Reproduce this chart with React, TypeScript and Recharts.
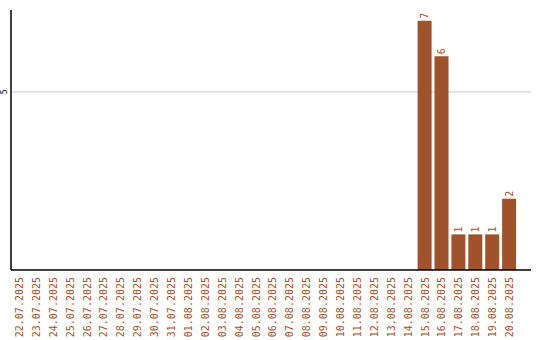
import React from "react";
import { BarChart, Bar, XAxis, YAxis, CartesianGrid, LabelList } from "recharts";

const days: string[] = [
  "22.07.2025", "23.07.2025", "24.07.2025", "25.07.2025", "26.07.2025",
  "27.07.2025", "28.07.2025", "29.07.2025", "30.07.2025", "31.07.2025",
  "01.08.2025", "02.08.2025", "03.08.2025", "04.08.2025", "05.08.2025",
  "06.08.2025", "07.08.2025", "08.08.2025", "09.08.2025", "10.08.2025",
  "11.08.2025", "12.08.2025", "13.08.2025", "14.08.2025", "15.08.2025",
  "16.08.2025", "17.08.2025", "18.08.2025", "19.08.2025", "20.08.2025",
];

const counts: (number | null)[] = [
  null, null, null, null, null, null, null, null, null, null,
  null, null, null, null, null, null, null, null, null, null,
  null, null, null, null, 7, 6, 1, 1, 1, 2,
];

const yTicks: number[] = [5];

const BROWN = "#a0522d";
const MONO = "'DejaVu Sans Mono', monospace";

const data = days.map((day, i) => ({ day, count: counts[i] }));

const DayTick = (props: any) => {
  const { x, y, payload } = props;
  return (
    <text
      x={0}
      y={0}
      transform={`translate(${x + 3.5},${y - 1}) rotate(-90)`}
      textAnchor="end"
      fontSize={10}
      fontFamily={MONO}
      fill={BROWN}
    >
      {payload.value}
    </text>
  );
};

const CountTick = (props: any) => {
  const { y, payload } = props;
  return (
    <text
      x={0}
      y={0}
      transform={`translate(7,${y}) rotate(-90)`}
      textAnchor="middle"
      fontSize={8}
      fontFamily={MONO}
      fill="#000"
    >
      {payload.value}
    </text>
  );
};

const ValueLabel = (props: any) => {
  const { x, y, width, value } = props;
  if (value == null) return null;
  return (
    <text
      x={0}
      y={0}
      transform={`translate(${x + width / 2 + 3.5},${y - 2}) rotate(-90)`}
      textAnchor="start"
      fontSize={10}
      fontFamily={MONO}
      fill={BROWN}
    >
      {value}
    </text>
  );
};

export default function App() {
  return (
    <div style={{ position: "absolute", left: 0, top: 0, width: 540, height: 340, background: "#fff" }}>
      <BarChart
        width={540}
        height={340}
        data={data}
        margin={{ top: 10, right: 9, bottom: 0, left: 0 }}
        barCategoryGap={1.5}
      >
        <CartesianGrid vertical={false} horizontalValues={yTicks} stroke="#c8c8c8" strokeWidth={1} />
        <XAxis
          dataKey="day"
          interval={0}
          height={70}
          axisLine={{ stroke: "#000", strokeWidth: 1.5 }}
          tickLine={false}
          tick={<DayTick />}
          padding={{ left: 0, right: 13 }}
        />
        <YAxis
          width={11}
          domain={[0, 7.3]}
          ticks={yTicks}
          axisLine={{ stroke: "#000", strokeWidth: 1.5 }}
          tickLine={false}
          tick={<CountTick />}
          allowDataOverflow
        />
        <Bar dataKey="count" fill={BROWN} barSize={14} isAnimationActive={false}>
          <LabelList dataKey="count" content={<ValueLabel />} />
        </Bar>
      </BarChart>
    </div>
  );
}
